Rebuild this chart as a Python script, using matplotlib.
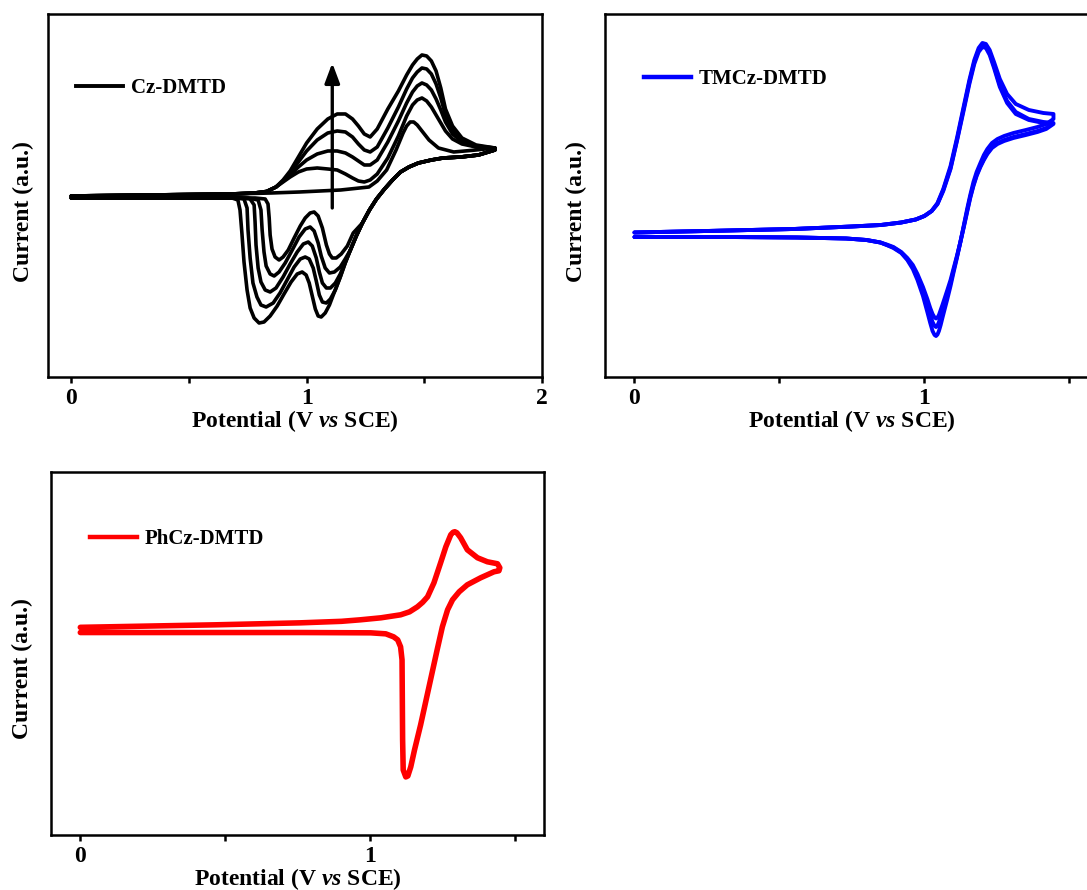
import matplotlib
matplotlib.use("Agg")
import matplotlib.pyplot as plt
from matplotlib.patches import FancyArrowPatch

plt.rcParams["font.family"] = ["Liberation Serif", "DejaVu Serif"]
plt.rcParams["font.weight"] = "bold"
plt.rcParams["mathtext.fontset"] = "custom"
plt.rcParams["mathtext.rm"] = "Liberation Serif:bold"
plt.rcParams["mathtext.bf"] = "Liberation Serif:bold"
plt.rcParams["mathtext.it"] = "Liberation Serif:italic:bold"
plt.rcParams["mathtext.bfit"] = "Liberation Serif:italic:bold"

# ---------------------------------------------------------------------------
# Cz-DMTD: five successive scans (potential in V vs SCE, current in a.u.)
# ---------------------------------------------------------------------------
cz_fwd_v = [0.0, 0.34, 0.68, 0.78, 0.83, 0.87, 0.90, 0.93, 0.965, 1.00, 1.045,
            1.09, 1.13, 1.165, 1.195, 1.22, 1.245, 1.27, 1.30, 1.345, 1.39,
            1.425, 1.45, 1.47, 1.49, 1.51, 1.53, 1.55, 1.57, 1.59, 1.62, 1.66,
            1.72, 1.80]
cz_fwd_i = {
    2: [0.0, 0.1, 0.2, 0.3, 0.45, 0.9, 1.4, 1.9, 2.4, 2.7, 2.8, 2.7, 2.6,
        2.2, 1.8, 1.5, 1.4, 1.6, 2.2, 3.8, 6.0, 8.0, 9.1, 9.6, 9.8, 9.5, 8.9,
        8.1, 7.3, 6.5, 5.7, 5.2, 4.9, 4.8],
    3: [0.0, 0.1, 0.2, 0.3, 0.45, 0.9, 1.5, 2.1, 2.9, 3.6, 4.2, 4.5, 4.5,
        4.3, 3.9, 3.5, 3.1, 3.1, 3.6, 5.4, 7.5, 9.3, 10.4, 11.0, 11.3, 11.1,
        10.6, 9.7, 8.6, 7.4, 6.2, 5.4, 4.9, 4.8],
    4: [0.0, 0.1, 0.2, 0.3, 0.45, 0.9, 1.5, 2.3, 3.4, 4.5, 5.6, 6.3, 6.5,
        6.4, 5.9, 5.2, 4.6, 4.4, 4.9, 6.8, 8.9, 10.7, 11.8, 12.4, 12.8, 12.7,
        12.2, 11.2, 9.8, 8.1, 6.6, 5.6, 5.0, 4.8],
    5: [0.0, 0.1, 0.2, 0.3, 0.45, 0.9, 1.6, 2.5, 3.9, 5.3, 6.7, 7.7, 8.2,
        8.2, 7.7, 7.0, 6.2, 5.9, 6.7, 8.7, 10.5, 12.1, 13.1, 13.7, 14.1, 14.0,
        13.5, 12.5, 10.8, 8.7, 7.0, 5.8, 5.1, 4.8],
}
# first scan has no low-potential wave
cz_scan1_v = [0.0, 0.34, 0.68, 0.85, 0.97, 1.145, 1.265, 1.30, 1.34, 1.38,
              1.41, 1.425, 1.44, 1.455, 1.47, 1.49, 1.52, 1.56, 1.625, 1.72,
              1.80]
cz_scan1_i = [0.0, 0.1, 0.2, 0.3, 0.4, 0.6, 0.9, 1.5, 2.6, 4.6, 6.3, 7.0,
              7.4, 7.4, 7.1, 6.5, 5.6, 4.8, 4.4, 4.6, 4.8]

# reverse sweep, shared part from the 1.8 V vertex
cz_rev_v = [1.80, 1.73, 1.655, 1.58, 1.53, 1.475, 1.435, 1.399, 1.365, 1.331,
            1.297, 1.267, 1.237]
cz_rev_i = [4.6, 4.1, 3.9, 3.8, 3.6, 3.3, 2.9, 2.4, 1.6, 0.7, -0.3, -1.4,
            -2.7]
# reverse sweep, per-scan part
cz_tail_v = {
    1: [1.198, 1.173, 1.147, 1.126, 1.109, 1.097, 1.084, 1.067, 1.049, 1.032,
        1.015, 0.994, 0.973, 0.947, 0.922, 0.900, 0.883, 0.866, 0.853, 0.845,
        0.841, 0.836, 0.824, 0.781, 0.34, 0.0],
    2: [1.211, 1.186, 1.164, 1.143, 1.118, 1.097, 1.079, 1.062, 1.049, 1.032,
        1.015, 0.994, 0.968, 0.939, 0.909, 0.883, 0.862, 0.845, 0.828, 0.819,
        0.811, 0.806, 0.794, 0.751, 0.34, 0.0],
    3: [1.211, 1.186, 1.164, 1.143, 1.122, 1.101, 1.084, 1.067, 1.054, 1.041,
        1.024, 1.007, 0.986, 0.960, 0.930, 0.900, 0.870, 0.845, 0.824, 0.806,
        0.794, 0.785, 0.781, 0.777, 0.760, 0.717, 0.34, 0.0],
    4: [1.211, 1.186, 1.164, 1.143, 1.122, 1.101, 1.084, 1.067, 1.054, 1.041,
        1.028, 1.011, 0.994, 0.973, 0.947, 0.917, 0.887, 0.858, 0.828, 0.806,
        0.789, 0.772, 0.760, 0.751, 0.747, 0.734, 0.696, 0.34, 0.0],
    5: [1.211, 1.186, 1.164, 1.143, 1.118, 1.097, 1.079, 1.062, 1.049, 1.037,
        1.024, 1.011, 0.998, 0.981, 0.960, 0.934, 0.904, 0.875, 0.845, 0.819,
        0.798, 0.777, 0.760, 0.747, 0.734, 0.725, 0.717, 0.708, 0.683, 0.34,
        0.0],
}
cz_tail_i = {
    1: [-3.7, -5.0, -5.8, -6.2, -6.2, -5.8, -4.9, -3.2, -2.0, -1.6, -1.7,
        -2.2, -3.0, -4.2, -5.4, -6.1, -6.4, -6.1, -5.3, -3.9, -2.2, -0.8,
        -0.3, -0.2, -0.2, -0.2],
    2: [-4.0, -5.4, -6.3, -7.1, -7.6, -7.7, -7.2, -6.0, -4.7, -3.5, -3.1,
        -3.3, -4.1, -5.4, -6.7, -7.6, -8.0, -7.8, -7.0, -5.6, -3.4, -1.4,
        -0.4, -0.2, -0.2, -0.2],
    3: [-4.0, -5.4, -6.6, -7.8, -8.7, -9.2, -9.2, -8.7, -7.6, -6.2, -5.0,
        -4.6, -4.8, -5.6, -6.8, -8.1, -9.2, -9.6, -9.4, -8.6, -7.2, -4.9,
        -2.6, -0.9, -0.3, -0.2, -0.2, -0.2],
    4: [-4.0, -5.4, -6.7, -8.1, -9.4, -10.3, -10.7, -10.6, -9.9, -8.5, -7.2,
        -6.3, -6.1, -6.3, -7.1, -8.4, -9.7, -10.7, -11.1, -10.9, -10.1, -8.7,
        -6.2, -3.4, -1.2, -0.3, -0.2, -0.2, -0.2],
    5: [-4.0, -5.4, -6.7, -8.1, -9.6, -10.9, -11.7, -12.1, -12.0, -11.3,
        -10.0, -8.7, -7.9, -7.6, -7.8, -8.6, -9.8, -11.0, -12.0, -12.6, -12.7,
        -12.2, -11.2, -9.4, -6.6, -3.7, -1.4, -0.4, -0.2, -0.2, -0.2],
}
cz_arrow_v = 1.109
cz_arrow_i = (-1.2, 13.3)

# ---------------------------------------------------------------------------
# TMCz-DMTD: three overlapping scans
# ---------------------------------------------------------------------------
tm_fwd_v = [0.0, 0.25, 0.55, 0.75, 0.85, 0.92, 0.97, 1.00, 1.025, 1.045,
            1.065, 1.09, 1.113, 1.135, 1.155, 1.172, 1.187, 1.20, 1.212, 1.225,
            1.24, 1.26, 1.285, 1.315, 1.36, 1.41, 1.445]
tm_fwd_i = {
    "a": [0.25, 0.4, 0.6, 0.85, 1.0, 1.25, 1.55, 1.9, 2.4, 3.2, 4.6, 6.9,
          9.8, 12.8, 15.5, 17.5, 18.7, 19.2, 19.1, 18.5, 17.3, 15.6, 14.1,
          13.1, 12.5, 12.2, 12.1],
    "b": [0.25, 0.4, 0.6, 0.85, 1.0, 1.25, 1.55, 1.9, 2.4, 3.1, 4.5, 6.7,
          9.6, 12.6, 15.3, 17.3, 18.5, 19.0, 18.9, 18.2, 16.9, 15.0, 13.4,
          12.3, 11.6, 11.3, 11.2],
    "c": [0.25, 0.4, 0.6, 0.85, 1.0, 1.25, 1.55, 1.9, 2.4, 3.1, 4.4, 6.6,
          9.5, 12.4, 15.1, 17.1, 18.3, 18.8, 18.7, 18.0, 16.7, 14.8, 13.2,
          12.1, 11.5, 11.2, 11.1],
}
tm_rev_v = [1.445, 1.42, 1.39, 1.35, 1.307, 1.275, 1.252, 1.233, 1.217, 1.205,
            1.193, 1.18, 1.169, 1.158, 1.148, 1.136, 1.124, 1.112, 1.10, 1.09,
            1.079, 1.07, 1.062, 1.056, 1.05, 1.045, 1.04, 1.035, 1.028, 1.02,
            1.01, 0.995, 0.976, 0.96, 0.941, 0.92, 0.893, 0.87, 0.848, 0.80,
            0.73, 0.56, 0.32, 0.0]
tm_rev_i = {
    "a": [11.6, 11.1, 10.8, 10.5, 10.2, 9.9, 9.6, 9.2, 8.6, 8.0, 7.2, 6.3,
          5.3, 4.0, 2.7, 1.0, -0.7, -2.3, -3.8, -5.1, -6.4, -7.4, -8.3, -9.0,
          -9.6, -9.95, -10.1, -10.0, -9.6, -8.8, -7.7, -6.1, -4.5, -3.4, -2.5,
          -1.8, -1.3, -1.0, -0.75, -0.5, -0.35, -0.25, -0.2, -0.2],
    "b": [11.2, 10.7, 10.4, 10.1, 9.8, 9.5, 9.2, 8.8, 8.2, 7.6, 6.9, 6.0,
          5.0, 3.8, 2.5, 0.9, -0.7, -2.2, -3.6, -4.8, -5.9, -6.8, -7.6, -8.2,
          -8.7, -9.05, -9.2, -9.1, -8.7, -8.0, -7.0, -5.6, -4.2, -3.2, -2.4,
          -1.75, -1.25, -1.0, -0.75, -0.5, -0.35, -0.25, -0.2, -0.2],
    "c": [11.1, 10.6, 10.3, 10.0, 9.7, 9.4, 9.1, 8.7, 8.1, 7.5, 6.8, 5.9,
          4.9, 3.7, 2.4, 0.8, -0.7, -2.1, -3.4, -4.5, -5.5, -6.3, -7.0, -7.5,
          -8.0, -8.25, -8.35, -8.25, -7.9, -7.3, -6.4, -5.2, -3.9, -3.0, -2.3,
          -1.7, -1.2, -0.95, -0.75, -0.5, -0.35, -0.25, -0.2, -0.2],
}

# ---------------------------------------------------------------------------
# PhCz-DMTD: single scan
# ---------------------------------------------------------------------------
ph_fwd_v = [0.0, 0.465, 0.76, 0.9, 0.965, 1.036, 1.104, 1.135, 1.162, 1.18,
            1.197, 1.219, 1.242, 1.260, 1.277, 1.285, 1.291, 1.298, 1.311,
            1.334, 1.369, 1.403, 1.438, 1.446]
ph_fwd_i = [0.25, 0.5, 0.7, 0.85, 1.0, 1.2, 1.5, 1.8, 2.3, 2.75, 3.3, 4.7,
            6.7, 8.3, 9.5, 9.75, 9.8, 9.7, 9.2, 8.0, 7.2, 6.8, 6.6, 6.2]
ph_rev_v = [1.443, 1.426, 1.38, 1.334, 1.306, 1.283, 1.266, 1.248, 1.230,
            1.211, 1.192, 1.173, 1.152, 1.139, 1.129, 1.122, 1.113, 1.111,
            1.110, 1.109, 1.104, 1.094, 1.080, 1.053, 1.001, 0.76, 0.0]
ph_rev_i = [5.9, 5.8, 5.2, 4.5, 3.8, 3.0, 2.0, 0.3, -2.0, -4.5, -7.0, -9.5,
            -12.0, -13.7, -14.6, -14.7, -14.0, -11.0, -7.0, -3.0, -1.7, -1.0,
            -0.7, -0.4, -0.3, -0.27, -0.27]


def style_axes(ax, xlim, ylim, majors, minors, label_x):
    ax.set_xlim(*xlim)
    ax.set_ylim(*ylim)
    ax.set_xticks(majors)
    ax.set_xticks(minors, minor=True)
    ax.set_xticklabels([str(m) for m in majors])
    ax.set_yticks([])
    ax.tick_params(axis="x", which="both", direction="out", length=4,
                   width=1.8, pad=4, labelsize=17)
    for sp in ax.spines.values():
        sp.set_linewidth(1.8)
    ax.set_xlabel(r"Potential (V $\mathbfit{vs}$ SCE)", fontsize=17,
                  fontweight="bold", labelpad=-1)
    ax.set_ylabel("Current (a.u.)", fontsize=17, fontweight="bold")
    ax.yaxis.set_label_coords(label_x, 0.457)


def add_legend(ax, handle, anchor):
    ax.legend([handle], [handle.get_label()], loc="center left",
              bbox_to_anchor=anchor, frameon=False, fontsize=15,
              handlelength=2.25, handletextpad=0.4, borderpad=0,
              borderaxespad=0)


line_kw = dict(solid_joinstyle="round", solid_capstyle="round")
fig = plt.figure(figsize=(10.87, 8.9), dpi=100)

# --- Cz-DMTD --------------------------------------------------------------
ax1 = fig.add_axes([0.0439, 0.5764, 0.4547, 0.4079])
ax1.plot(cz_scan1_v + cz_rev_v + cz_tail_v[1],
         cz_scan1_i + cz_rev_i + cz_tail_i[1], color="black", lw=2.6,
         **line_kw)
for k in (2, 3, 4, 5):
    ax1.plot(cz_fwd_v + cz_rev_v + cz_tail_v[k],
             cz_fwd_i[k] + cz_rev_i + cz_tail_i[k], color="black", lw=2.6,
             **line_kw)
h1, = ax1.plot([], [], color="black", lw=2.8, label="Cz-DMTD")
ax1.add_patch(FancyArrowPatch((cz_arrow_v, cz_arrow_i[0]),
                              (cz_arrow_v, cz_arrow_i[1]),
                              arrowstyle="-|>,head_length=12,head_width=4.5",
                              mutation_scale=1, lw=2.4, color="black",
                              shrinkA=0, shrinkB=0))
style_axes(ax1, (-0.1, 2.0), (-18.1, 18.2), [0, 1, 2], [0.5, 1.5], -0.0275)
add_legend(ax1, h1, (0.057, 0.796))

# --- TMCz-DMTD ------------------------------------------------------------
ax2 = fig.add_axes([0.5570, 0.5764, 0.4535, 0.4079])
for key in ("a", "b", "c"):
    ax2.plot(tm_fwd_v + tm_rev_v, tm_fwd_i[key] + tm_rev_i[key],
             color="#0000ff", lw=2.8, **line_kw)
h2, = ax2.plot([], [], color="#0000ff", lw=3.2, label="TMCz-DMTD")
style_axes(ax2, (-0.1, 1.6), (-14.2, 22.1), [0, 1], [0.5, 1.5], -0.0375)
add_legend(ax2, h2, (0.078, 0.821))

# --- PhCz-DMTD ------------------------------------------------------------
ax3 = fig.add_axes([0.0472, 0.0618, 0.4537, 0.4082])
ax3.plot(ph_fwd_v + ph_rev_v, ph_fwd_i + ph_rev_i, color="#ff0000", lw=4.0,
         **line_kw)
h3, = ax3.plot([], [], color="#ff0000", lw=3.2, label="PhCz-DMTD")
style_axes(ax3, (-0.1, 1.6), (-20.5, 15.8), [0, 1], [0.5, 1.5], -0.037)
add_legend(ax3, h3, (0.078, 0.815))

fig.savefig("out.png", dpi=100)
